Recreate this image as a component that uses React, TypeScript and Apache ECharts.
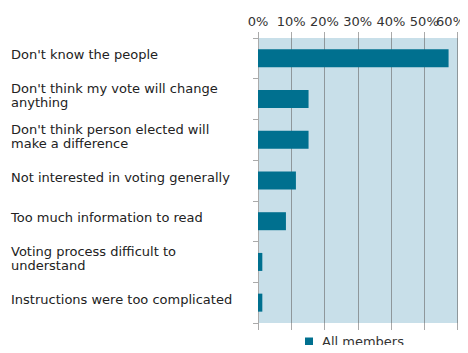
import React, { useEffect, useRef } from "react";
import * as echarts from "echarts";

const categories = [
  "Don't know the people",
  "Don't think my vote will change anything",
  "Don't think person elected will make a difference",
  "Not interested in voting generally",
  "Too much information to read",
  "Voting process difficult to understand",
  "Instructions were too complicated",
];
const allMembers = [57.3, 15.2, 15.2, 11.4, 8.4, 1.3, 1.3];
const seriesName = "All members";
const xMin = 0;
const xMax = 60;
const xStep = 10;

const FONT = "DejaVu Sans";

export default function App() {
  const ref = useRef<HTMLDivElement>(null);
  useEffect(() => {
    if (!ref.current) return;
    const chart = echarts.init(ref.current, null, { renderer: "svg" });
    const labelStyle = { fontFamily: FONT, fontSize: 13, color: "#333" };
    chart.setOption({
      animation: false,
      textStyle: { fontFamily: FONT },
      grid: [
        {
          left: 250,
          right: 8,
          top: 30,
          bottom: 30,
          containLabel: false,
          show: true,
          backgroundColor: "#c8dfe9",
          borderWidth: 0,
        },
        {
          // label grid, shifted up slightly so the category texts sit like the reference
          left: 250,
          right: 8,
          top: 26.5,
          bottom: 33.5,
          containLabel: false,
          show: false,
        },
      ],
      legend: {
        top: 322,
        left: 292,
        itemWidth: 8,
        itemHeight: 8,
        itemGap: 8,
        icon: "rect",
        textStyle: { ...labelStyle, padding: [0, 0, 0, 4] },
        data: [seriesName],
      },
      xAxis: [
        {
          type: "value",
          gridIndex: 0,
          position: "top",
          min: xMin,
          max: xMax,
          interval: xStep,
          axisLabel: {
            ...labelStyle,
            showMinLabel: true,
            showMaxLabel: true,
            formatter: (v: number) => (v === xMax ? "" : v + "%"),
            margin: 10,
          },
          axisLine: { show: false },
          axisTick: { show: true, length: 6, lineStyle: { color: "#aaaaaa" } },
          splitLine: { show: true, lineStyle: { color: "#8e979b", width: 1 } },
        },
        {
          type: "value",
          gridIndex: 0,
          position: "top",
          min: xMin,
          max: xMax,
          interval: xStep,
          axisLabel: {
            ...labelStyle,
            showMinLabel: true,
            showMaxLabel: true,
            formatter: (v: number) => (v === xMax ? "{last|" + v + "%}" : ""),
            margin: 10,
            rich: { last: { ...labelStyle, padding: [0, 14, 0, 0] } },
          },
          axisLine: { show: false },
          axisTick: { show: false },
          splitLine: { show: false },
        },
        {
          type: "value",
          gridIndex: 0,
          position: "bottom",
          min: xMin,
          max: xMax,
          interval: xStep,
          axisLabel: { show: false },
          axisLine: { show: false },
          axisTick: { show: true, length: 7, lineStyle: { color: "#aaaaaa" } },
          splitLine: { show: false },
        },
        {
          type: "value",
          gridIndex: 1,
          min: xMin,
          max: xMax,
          show: false,
        },
      ],
      yAxis: [
        {
          type: "category",
          gridIndex: 0,
          inverse: true,
          data: categories,
          axisLine: { show: true, lineStyle: { color: "#aaaaaa" } },
          axisTick: { show: true, length: 5, lineStyle: { color: "#aaaaaa" } },
          axisLabel: { show: false },
        },
        {
          type: "category",
          gridIndex: 1,
          inverse: true,
          data: categories,
          axisLine: { show: false },
          axisTick: { show: false },
          axisLabel: {
            align: "left",
            margin: 251,
            width: 230,
            overflow: "break",
            fontFamily: FONT,
            fontSize: 13,
            lineHeight: 14,
            color: "#222",
          },
        },
      ],
      series: [
        {
          name: seriesName,
          type: "bar",
          xAxisIndex: 0,
          yAxisIndex: 0,
          data: allMembers,
          barWidth: 18,
          itemStyle: { color: "#00708f" },
        },
      ],
    });
    return () => chart.dispose();
  }, []);
  return <div ref={ref} style={{ width: 460, height: 345, marginBottom: -8 }} />;
}
